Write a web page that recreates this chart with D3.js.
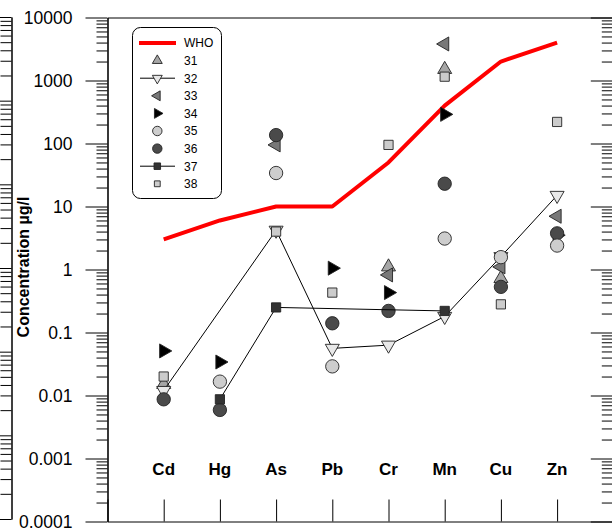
<!DOCTYPE html>
<html>
<head>
<meta charset="utf-8">
<script src="https://cdn.jsdelivr.net/npm/d3@7"></script>
<style>
  html, body { margin: 0; padding: 0; background: #fff; }
  svg { display: block; font-family: "Liberation Sans", Arial, sans-serif; }
</style>
</head>
<body>
<svg id="chart" width="612" height="532"></svg>
<script>
// Heavy-metal concentrations (µg/l) per element, sites 31-38, with WHO guideline values
const categories = ["Cd", "Hg", "As", "Pb", "Cr", "Mn", "Cu", "Zn"];
const who  = [3, 6, 10, 10, 50, 400, 2000, 4000];
const s31  = [0.015, null, null, null, 1.1, 1500, 0.72, null];
const s32  = [0.012, null, 4.2, 0.056, 0.063, 0.18, 1.6, 15];
const s33  = [null, null, 95, null, 0.82, 3800, 1.1, 7];
const s34  = [0.051, 0.034, null, 1.05, 0.43, 290, null, 3.5];
const s35  = [null, 0.0166, 34, 0.029, null, 3.1, 1.57, 2.4];
const s36  = [0.0087, 0.0059, 136, 0.14, 0.22, 23, 0.53, 3.75];
const s37  = [null, 0.0087, 0.25, null, null, 0.22, null, null];
const s38  = [0.02, null, 4.0, 0.43, 95, 1150, 0.28, 220];
const yTickValues = [1e-4, 1e-3, 1e-2, 1e-1, 1, 10, 100, 1000, 10000];
const yTickLabels = ["0.0001", "0.001", "0.01", "0.1", "1", "10", "100", "1000", "10000"];
const seriesNames = ["31", "32", "33", "34", "35", "36", "37", "38"];

const svg = d3.select("#chart");

const x = d3.scaleLinear().domain([0, 9]).range([107.5, 613.3]);
const y = d3.scaleLog().domain([1e-4, 1e4]).range([521.5, 17.5]);

// minor ticks 2..9 for each decade
function minorTicks(lo, hi) {
  const out = [];
  for (let e = Math.log10(lo); e < Math.log10(hi); e++) {
    for (let m = 2; m <= 9; m++) out.push(m * Math.pow(10, e));
  }
  return out;
}

// ---- neighbouring panel edge on the left (its right-hand axis) ----
const yPrev = d3.scaleLog().domain([1e-3, 1e3]).range([519, 17]);
const prevAxis = svg.append("g").attr("transform", "translate(11.5,0)");
prevAxis.call(d3.axisLeft(yPrev).tickValues([1e-3,1e-2,1e-1,1,10,100,1000])
  .tickSize(22).tickSizeOuter(0).tickFormat(""));
prevAxis.append("g").call(d3.axisLeft(yPrev).tickValues(minorTicks(1e-3, 1e3))
  .tickSize(11).tickSizeOuter(0).tickFormat(""));
prevAxis.selectAll("path.domain").attr("stroke", "#000");

// ---- main y axis (left) ----
const yAxisG = svg.append("g").attr("transform", "translate(107.5,0)");
yAxisG.call(d3.axisLeft(y).tickValues(yTickValues).tickSize(22).tickSizeOuter(0)
  .tickPadding(13).tickFormat((d, i) => yTickLabels[i]));
yAxisG.append("g").call(d3.axisLeft(y).tickValues(minorTicks(1e-4, 1e4))
  .tickSize(11).tickSizeOuter(0).tickFormat(""));
yAxisG.selectAll("text").attr("font-size", 17.5).attr("fill", "#000")
  .attr("font-family", "Liberation Sans, Arial, sans-serif").attr("dy", "0.36em");
yAxisG.select("path.domain").attr("stroke", "#333").attr("stroke-width", 1.4);

// ---- right-hand axis (ticks pointing inward) ----
const yAxisR = svg.append("g").attr("transform", "translate(612.8,0)");
yAxisR.call(d3.axisLeft(y).tickValues(yTickValues).tickSize(22).tickSizeOuter(0).tickFormat(""));
yAxisR.append("g").call(d3.axisLeft(y).tickValues(minorTicks(1e-4, 1e4))
  .tickSize(11).tickSizeOuter(0).tickFormat(""));

// ---- x axis (bottom) with inward ticks, and top frame ----
const xAxisG = svg.append("g").attr("transform", "translate(0,521.5)");
xAxisG.call(d3.axisBottom(x).tickValues(d3.range(0, 10)).tickSizeInner(-22)
  .tickSizeOuter(0).tickFormat(""));
svg.append("g").attr("transform", "translate(0,17.5)")
  .call(d3.axisTop(x).tickValues([]).tickSizeOuter(0));

// category labels
svg.append("g").selectAll("text").data(categories).join("text")
  .attr("x", (d, i) => x(i + 1))
  .attr("y", 475)
  .attr("text-anchor", "middle")
  .attr("font-size", 17)
  .attr("font-weight", "bold")
  .text(d => d);

// y axis title
svg.append("text")
  .attr("transform", "translate(29,267) rotate(-90)")
  .attr("text-anchor", "middle")
  .attr("font-size", 16)
  .attr("font-weight", "bold")
  .text("Concentration µg/l");

// ---- WHO guideline line ----
const line = d3.line().x(d => x(d.i + 1)).y(d => y(d.v));
svg.append("path")
  .datum(who.map((v, i) => ({ i, v })))
  .attr("d", line)
  .attr("fill", "none")
  .attr("stroke", "#ff0000")
  .attr("stroke-width", 4)
  .attr("stroke-linejoin", "round");

// ---- site series ----
const series = {
  "31": { values: s31, shape: d3.symbolTriangle, rot: 0,   fill: "#a6a6a6", size: 85,  line: false },
  "32": { values: s32, shape: d3.symbolTriangle, rot: 180, fill: "#e8e8e8", size: 85,  line: true },
  "33": { values: s33, shape: d3.symbolTriangle, rot: -90, fill: "#787878", size: 85,  line: false },
  "34": { values: s34, shape: d3.symbolTriangle, rot: 90,  fill: "#000000", size: 85,  line: false },
  "35": { values: s35, shape: d3.symbolCircle,   rot: 0,   fill: "#cdcdcd", size: 140, line: false },
  "36": { values: s36, shape: d3.symbolCircle,   rot: 0,   fill: "#4a4a4a", size: 140, line: false },
  "37": { values: s37, shape: d3.symbolSquare,   rot: 0,   fill: "#333333", size: 85,  line: true },
  "38": { values: s38, shape: d3.symbolSquare,   rot: 0,   fill: "#cccccc", size: 85,  line: false }
};
const drawOrder = ["31", "32", "33", "34", "36", "35", "37", "38"];

drawOrder.forEach(name => {
  const s = series[name];
  const pts = s.values.map((v, i) => ({ i, v })).filter(d => d.v != null);
  const g = svg.append("g");
  if (s.line) {
    g.append("path").datum(pts).attr("d", line)
      .attr("fill", "none").attr("stroke", "#000").attr("stroke-width", 1);
  }
  g.selectAll("path.mark").data(pts).join("path")
    .attr("class", "mark")
    .attr("d", d3.symbol().type(s.shape).size(s.size))
    .attr("transform", d => `translate(${x(d.i + 1)},${y(d.v)}) rotate(${s.rot})`)
    .attr("fill", s.fill)
    .attr("stroke", "#222")
    .attr("stroke-width", 0.9);
});

// ---- legend ----
const leg = svg.append("g");
leg.append("rect")
  .attr("x", 132.5).attr("y", 27.5).attr("width", 89).attr("height", 171)
  .attr("rx", 8).attr("ry", 8)
  .attr("fill", "#fff").attr("stroke", "#000").attr("stroke-width", 1);
const legY = i => 43 + i * 17.6;
leg.append("line").attr("x1", 139).attr("x2", 176).attr("y1", legY(0)).attr("y2", legY(0))
  .attr("stroke", "#ff0000").attr("stroke-width", 4);
leg.append("text").attr("x", 184).attr("y", legY(0) + 4.3).attr("font-size", 12).text("WHO");
seriesNames.forEach((name, k) => {
  const s = series[name];
  const yy = legY(k + 1);
  if (s.line) {
    leg.append("line").attr("x1", 140).attr("x2", 175).attr("y1", yy).attr("y2", yy)
      .attr("stroke", "#000").attr("stroke-width", 1);
  }
  leg.append("path")
    .attr("d", d3.symbol().type(s.shape).size(s.size * (name === "38" ? 0.4 : 0.5))())
    .attr("transform", `translate(157.3,${yy}) rotate(${s.rot})`)
    .attr("fill", s.fill).attr("stroke", "#222").attr("stroke-width", 0.9);
  leg.append("text").attr("x", 184).attr("y", yy + 4.3).attr("font-size", 12).text(name);
});
</script>
</body>
</html>
